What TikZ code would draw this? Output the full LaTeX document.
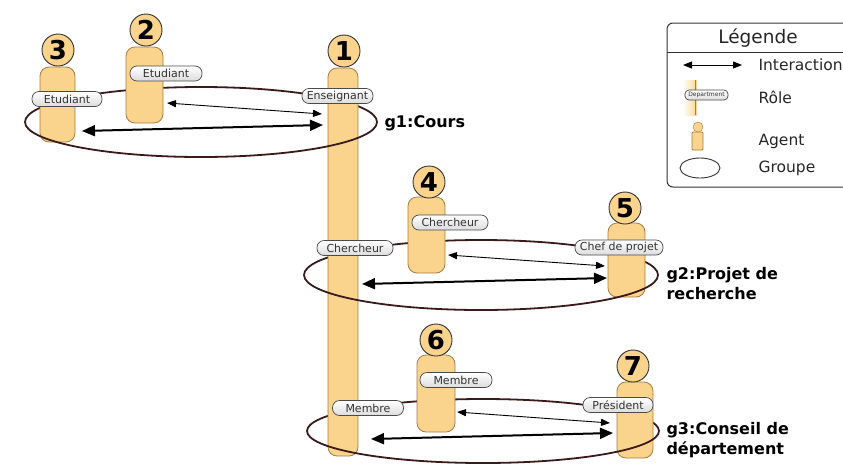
\documentclass[tikz,border=0pt]{standalone}
\usepackage{fontspec}
\setmainfont{DejaVu Sans}
\usetikzlibrary{arrows.meta}
\definecolor{agentfill}{HTML}{FAD38C}
\definecolor{agentline}{HTML}{A77C45}
\definecolor{groupline}{HTML}{3B1A1A}
\definecolor{rolefill}{HTML}{DCDCDC}
\definecolor{roleline}{HTML}{4A4A4A}

\begin{document}
\begin{tikzpicture}[x=1pt, y=-1pt,
  body/.style={draw=agentline, fill=agentfill, rounded corners=9pt, line width=0.8pt, inner sep=0pt},
  head/.style={circle, draw=black!80, fill=agentfill, line width=0.9pt, minimum size=32pt, inner sep=0pt, font=\fontsize{26}{26}\selectfont\bfseries},
  role/.style={draw=roleline, top color=white, bottom color=rolefill, rounded corners=7pt, minimum height=15pt, inner sep=0pt, line width=0.7pt, text=black!80, font=\fontsize{11}{11}\selectfont},
  grp/.style={draw=groupline, line width=1.8pt},
  link/.style={line width=0.9pt, {Triangle[length=9pt,width=7pt]}-{Triangle[length=9pt,width=7pt]}},
  biglink/.style={line width=2pt, {Triangle[length=13pt,width=11pt]}-{Triangle[length=13pt,width=11pt]}},
  gname/.style={anchor=west, align=left, font=\fontsize{16}{20}\selectfont\bfseries},
  legtext/.style={anchor=west, font=\fontsize{15.5}{16}\selectfont, text=black!85}]
\clip (0, 0) rectangle (843, 464);

% Groups, back halves
\draw[grp] (377, 122) arc[start angle=0, end angle=180, x radius=176pt, y radius=35pt];
\draw[grp] (658, 275) arc[start angle=0, end angle=180, x radius=177pt, y radius=35pt];
\draw[grp] (659, 431) arc[start angle=0, end angle=180, x radius=176pt, y radius=32pt];

% Agents
\node[body, minimum width=35pt, minimum height=75pt] (b3) at (57.5, 104.5) {};
\node[body, minimum width=37pt, minimum height=76pt] (b2) at (144.5, 85) {};
\node[body, minimum width=30pt, minimum height=388pt] (b1) at (343, 262) {};
\node[body, minimum width=37pt, minimum height=76pt] (b4) at (426.5, 235) {};
\node[body, minimum width=37pt, minimum height=74pt] (b5) at (626.5, 260) {};
\node[body, minimum width=38pt, minimum height=77pt] (b6) at (436, 393.5) {};
\node[body, minimum width=36pt, minimum height=76pt] (b7) at (635, 420) {};

\node[head] (h3) at (58, 50) {3};
\node[head] (h2) at (146, 30) {2};
\node[head] (h1) at (344, 51) {1};
\node[head] (h4) at (429, 182) {4};
\node[head] (h5) at (625, 208) {5};
\node[head] (h6) at (436, 340) {6};
\node[head] (h7) at (633, 366) {7};

% Roles
\node[role, minimum width=70pt] (r3) at (67, 99) {Etudiant};
\node[role, minimum width=72pt] (r2) at (166, 73.5) {Etudiant};
\node[role, minimum width=71pt] (r1a) at (337.5, 96) {Enseignant};
\node[role, minimum width=76pt] (r1b) at (355, 248) {Chercheur};
\node[role, minimum width=76pt] (r4) at (450, 222.5) {Chercheur};
\node[role, minimum width=88pt] (r5) at (619, 247.5) {Chef de projet};
\node[role, minimum width=72pt] (r6) at (456, 380) {Membre};
\node[role, minimum width=71pt] (r1c) at (368, 408) {Membre};
\node[role, minimum width=70pt] (r7) at (618, 405) {Président};

% Groups, front halves
\draw[grp] (25, 122) arc[start angle=180, end angle=360, x radius=176pt, y radius=35pt];
\draw[grp] (304, 275) arc[start angle=180, end angle=360, x radius=177pt, y radius=35pt];
\draw[grp] (307, 431) arc[start angle=180, end angle=360, x radius=176pt, y radius=32pt];

% Interactions
\coordinate (i2) at (167, 103);
\coordinate (i1a) at (322, 114);
\coordinate (i3) at (82, 131);
\coordinate (i1b) at (323, 125);
\draw[link] (i2) -- (i1a);
\draw[biglink] (i3) -- (i1b);

\coordinate (i4) at (448, 255);
\coordinate (i5a) at (605, 266);
\coordinate (i1c) at (362, 284);
\coordinate (i5b) at (607, 278);
\draw[link] (i4) -- (i5a);
\draw[biglink] (i1c) -- (i5b);

\coordinate (i6) at (457, 412);
\coordinate (i7a) at (610, 423);
\coordinate (i1d) at (371, 439);
\coordinate (i7b) at (613, 433);
\draw[link] (i6) -- (i7a);
\draw[biglink] (i1d) -- (i7b);

\node[gname] (g1) at (381, 123) {g1:Cours};
\node[gname] (g2) at (663, 284) {g2:Projet de\\recherche};
\node[gname] (g3) at (663, 440) {g3:Conseil de\\département};

% Legend
\draw[line width=1pt, black!80, rounded corners=6pt] (667, 23) rectangle (900, 187);
\draw[line width=1pt, black!80] (667, 52) -- (843, 52);
\node[font=\fontsize{18.5}{19}\selectfont, text=black!85] (leg) at (758, 38) {Légende};

\coordinate (la) at (683, 65);
\coordinate (lb) at (742, 65);
\draw[line width=0.9pt, {Triangle[length=9pt,width=7pt]}-{Triangle[length=9pt,width=7pt]}] (la) -- (lb);
\node[legtext] (tinter) at (755, 65) {Interaction};

\shade[left color=white, right color=agentfill] (683, 80) rectangle (697, 115);
\draw[agentline, line width=1pt] (695, 80) -- (695, 115);
\node[role, minimum width=43pt, minimum height=10pt, rounded corners=4pt, font=\fontsize{6}{6}\selectfont] (rdep) at (706.5, 95) {Department};
\node[legtext] (trole) at (755, 97) {Rôle};

\node[body, rounded corners=1pt, minimum width=11pt, minimum height=18pt] (lbody) at (697.5, 141) {};
\node[circle, draw=agentline, fill=agentfill, minimum size=10pt, inner sep=0pt] (lhead) at (698, 127) {};
\node[legtext] (tagent) at (755, 141) {Agent};

\draw[line width=0.9pt, black!80] (700, 168) ellipse[x radius=20pt, y radius=10pt];
\node[legtext] (tgroupe) at (755, 168) {Groupe};
\end{tikzpicture}
\end{document}
